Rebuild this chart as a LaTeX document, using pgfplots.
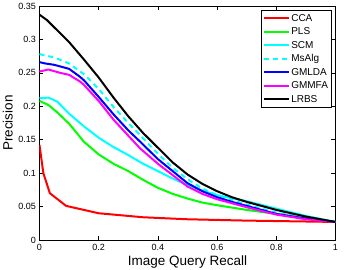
\documentclass[border=0pt]{standalone}
\usepackage{fontspec}
\setmainfont{Liberation Sans}
\usepackage{pgfplots}
\pgfplotsset{compat=1.18}
\definecolor{mred}{rgb}{1,0,0}
\definecolor{mgreen}{rgb}{0,1,0}
\definecolor{mcyan}{rgb}{0,1,1}
\definecolor{mblue}{rgb}{0,0,1}
\definecolor{mmag}{rgb}{1,0,1}
\begin{document}
\begin{tikzpicture}
\begin{axis}[
  scale only axis,
  width=296pt, height=234pt,
  xmin=0, xmax=1, ymin=0, ymax=0.35,
  xtick={0,0.2,0.4,0.6,0.8,1},
  ytick={0,0.05,0.1,0.15,0.2,0.25,0.3,0.35},
  xticklabels={0,0.2,0.4,0.6,0.8,1},
  yticklabels={0,0.05,0.1,0.15,0.2,0.25,0.3,0.35},
  tick align=inside,
  major tick length=4pt,
  axis line style={line width=0.6pt},
  tick style={line width=0.5pt, black},
  /pgf/number format/assume math mode=true,
  ticklabel style={font=\fontsize{9}{10}\selectfont},
  xticklabel style={yshift=-1pt},
  xlabel={Image Query Recall},
  ylabel={Precision},
  label style={font=\fontsize{13.5}{15}\selectfont},
  xlabel style={at={(axis description cs:0.5,0)}, anchor=base, yshift=-26pt},
  ylabel style={at={(axis description cs:0,0.5)}, anchor=base, yshift=26.8pt},
  legend style={at={(axis description cs:1,1)}, anchor=north east, xshift=-3.8pt, yshift=-4pt,
    font=\fontsize{10}{12}\selectfont, draw=black, line width=0.5pt, inner sep=2.5pt,
    row sep=2pt,
    nodes={inner sep=1pt, text height=7.5pt, text depth=2pt}},
  legend cell align=left,
  legend image code/.code={\draw[#1, line width=2pt] (0pt,0pt) -- (25pt,0pt);},
  every axis plot/.append style={line width=2pt},
]
\addplot[mred] coordinates {
(0,0.142) (0.013,0.100) (0.035,0.070) (0.09,0.051) (0.2,0.040) (0.35,0.034) (0.5,0.031) (0.7,0.029) (0.85,0.028) (1,0.027)};
\addlegendentry{CCA}
\addplot[mgreen] coordinates {
(0,0.208) (0.03,0.202) (0.06,0.191) (0.1,0.174) (0.15,0.147) (0.2,0.128) (0.25,0.114) (0.3,0.103) (0.35,0.090) (0.4,0.078) (0.45,0.069) (0.5,0.062) (0.55,0.056) (0.6,0.052) (0.7,0.045) (0.8,0.039) (0.9,0.033) (1,0.027)};
\addlegendentry{PLS}
\addplot[mcyan] coordinates {
(0,0.212) (0.03,0.213) (0.06,0.207) (0.1,0.189) (0.15,0.170) (0.2,0.153) (0.25,0.139) (0.3,0.127) (0.35,0.114) (0.4,0.103) (0.45,0.092) (0.5,0.082) (0.55,0.074) (0.6,0.067) (0.7,0.058) (0.8,0.047) (0.9,0.036) (1,0.027)};
\addlegendentry{SCM}
\addplot[mcyan, dash pattern=on 5pt off 4pt] coordinates {
(0,0.278) (0.05,0.273) (0.1,0.264) (0.15,0.248) (0.2,0.226) (0.25,0.199) (0.3,0.175) (0.35,0.152) (0.4,0.129) (0.45,0.108) (0.5,0.091) (0.55,0.077) (0.6,0.067) (0.65,0.060) (0.7,0.053) (0.8,0.041) (0.9,0.033) (1,0.027)};
\addlegendentry{MsAlg}
\addplot[mblue] coordinates {
(0,0.266) (0.02,0.264) (0.05,0.262) (0.1,0.256) (0.137,0.244) (0.15,0.239) (0.2,0.214) (0.25,0.188) (0.3,0.164) (0.34,0.147) (0.4,0.121) (0.45,0.103) (0.5,0.085) (0.55,0.073) (0.6,0.064) (0.65,0.057) (0.7,0.051) (0.8,0.039) (0.9,0.032) (1,0.027)};
\addlegendentry{GMLDA}
\addplot[mmag] coordinates {
(0,0.252) (0.03,0.255) (0.07,0.250) (0.1,0.247) (0.137,0.237) (0.15,0.232) (0.2,0.208) (0.25,0.180) (0.3,0.156) (0.34,0.137) (0.4,0.114) (0.45,0.097) (0.5,0.080) (0.55,0.069) (0.6,0.061) (0.65,0.055) (0.7,0.049) (0.8,0.038) (0.9,0.031) (1,0.027)};
\addlegendentry{GMMFA}
\addplot[black] coordinates {
(0,0.337) (0.025,0.329) (0.05,0.318) (0.1,0.296) (0.15,0.270) (0.2,0.243) (0.25,0.213) (0.3,0.185) (0.35,0.160) (0.4,0.138) (0.45,0.116) (0.5,0.098) (0.55,0.084) (0.6,0.073) (0.65,0.064) (0.7,0.057) (0.8,0.045) (0.9,0.035) (1,0.027)};
\addlegendentry{LRBS}
\end{axis}
\pgfresetboundingbox
\path[use as bounding box] ([xshift=-39.5pt,yshift=-30pt]current axis.south west) rectangle ([xshift=10.5pt,yshift=6pt]current axis.north east);
\end{tikzpicture}
\end{document}
